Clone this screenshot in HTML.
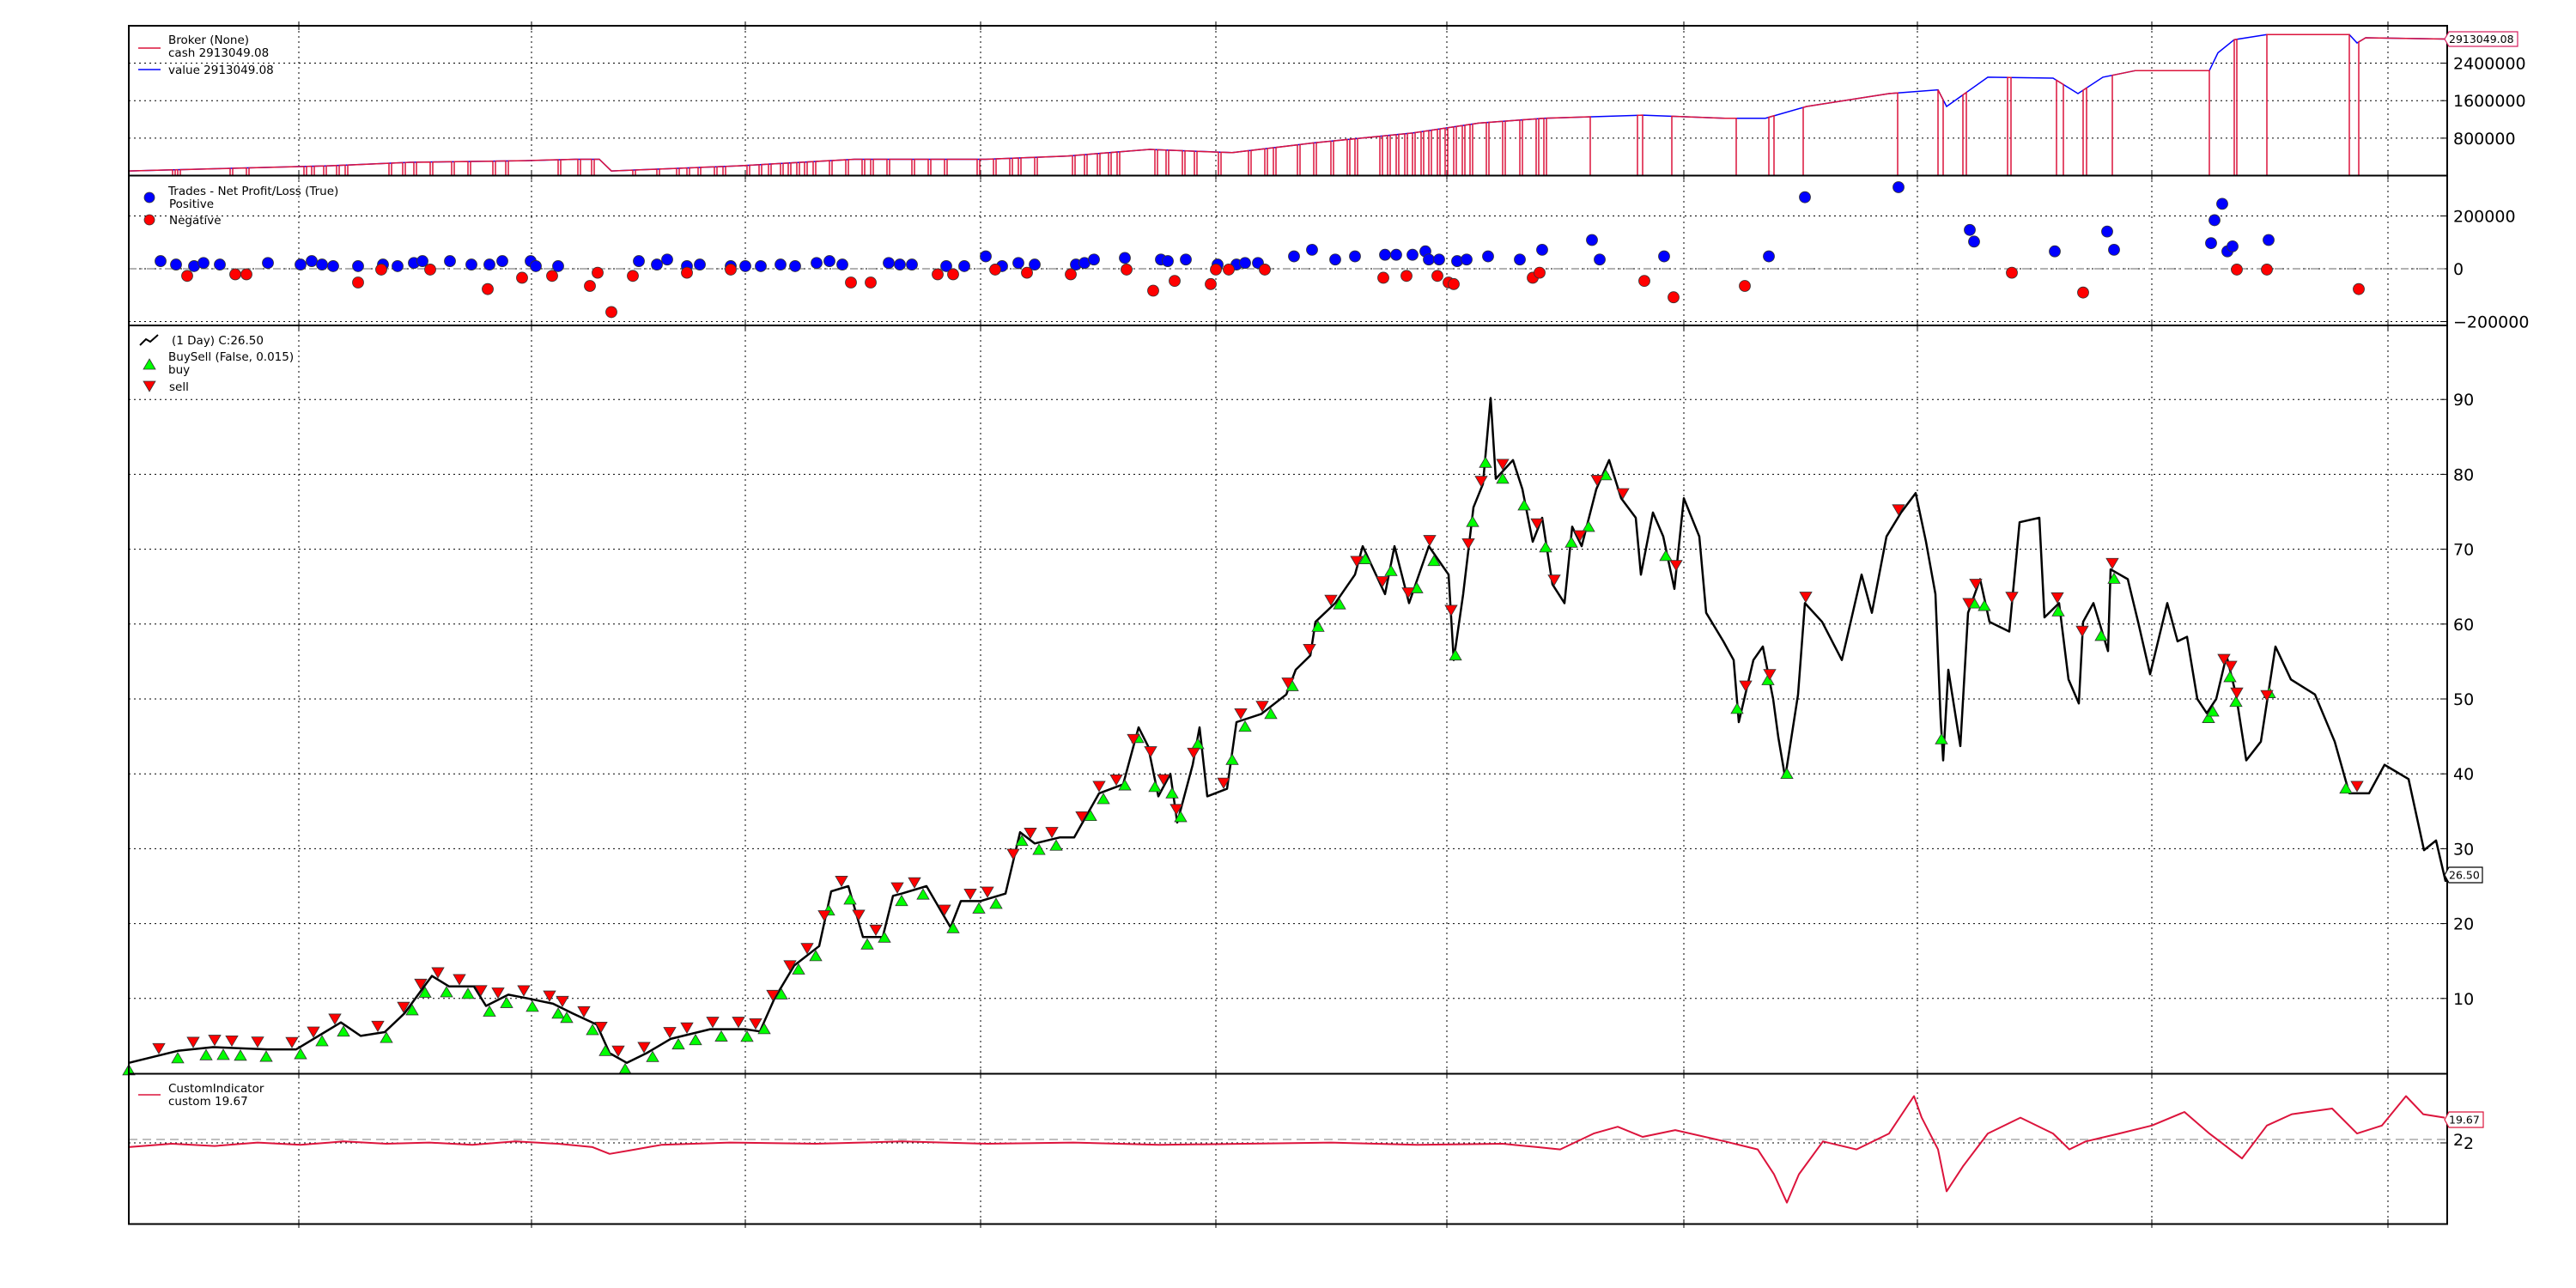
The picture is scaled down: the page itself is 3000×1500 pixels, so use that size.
<!DOCTYPE html>
<html><head><meta charset="utf-8"><title>Backtest chart</title>
<style>
html,body{margin:0;padding:0;background:#fff;}
svg{display:block;font-family:"DejaVu Sans","Liberation Sans",sans-serif;}
</style></head>
<body>
<svg id="chart" width="3000" height="1500" viewBox="0 0 3000 1500" xmlns="http://www.w3.org/2000/svg">
  <rect x="0" y="0" width="3000" height="1500" fill="#fff"/>
  <g id="grid"></g>
  <g id="series"></g>
  <g id="frames" fill="none" stroke="#000" stroke-width="2">
    <rect x="150" y="30" width="2700" height="174.5"/>
    <rect x="150" y="204.5" width="2700" height="174.5"/>
    <rect x="150" y="379" width="2700" height="871.5"/>
    <rect x="150" y="1250.5" width="2700" height="175"/>
  </g>
  <g id="ticks" font-size="19" fill="#000"></g>
  <g font-size="13.5">
    <line x1="161" y1="56" x2="187" y2="56" stroke="#dc143c" stroke-width="1.5"/>
    <line x1="161" y1="81" x2="187" y2="81" stroke="#0000ff" stroke-width="1.5"/>
    <text x="196" y="51">Broker (None)</text>
    <text x="196" y="66">cash 2913049.08</text>
    <text x="196" y="86">value 2913049.08</text>
  </g>
  <g font-size="13.5">
    <circle cx="174" cy="230" r="6" fill="#0000ff" stroke="#333" stroke-width="0.8"/>
    <circle cx="174" cy="256" r="6" fill="#ff0000" stroke="#333" stroke-width="0.8"/>
    <text x="196" y="227">Trades - Net Profit/Loss (True)</text>
    <text x="197" y="242">Positive</text>
    <text x="197" y="261">Negative</text>
  </g>
  <g font-size="13.5">
    <polyline points="163,402 170,395 175,398 184,390" fill="none" stroke="#000" stroke-width="2"/>
    <text x="200" y="401">(1 Day) C:26.50</text>
    <text x="196" y="420">BuySell (False, 0.015)</text>
    <polygon points="174,418 181,430 167,430" fill="#00ff00" stroke="#333" stroke-width="0.8"/>
    <text x="196" y="435">buy</text>
    <polygon points="167,444 181,444 174,456" fill="#ff0000" stroke="#333" stroke-width="0.8"/>
    <text x="197" y="455">sell</text>
  </g>
  <g font-size="13.5">
    <line x1="161" y1="1275" x2="187" y2="1275" stroke="#dc143c" stroke-width="1.5"/>
    <text x="196" y="1272">CustomIndicator</text>
    <text x="196" y="1287">custom 19.67</text>
  </g>
  <g font-size="12.5">
    <polygon points="2852,37 2932,37 2932,54 2852,54 2847,45.5" fill="#fff" stroke="#d62060" stroke-width="1.2"/>
    <text x="2852" y="50">2913049.08</text>
    <polygon points="2852,1010 2891,1010 2891,1028 2852,1028 2847,1019" fill="#fff" stroke="#000" stroke-width="1.2"/>
    <text x="2852" y="1023.5">26.50</text>
    <polygon points="2852,1295 2892,1295 2892,1313 2852,1313 2847,1304" fill="#fff" stroke="#dc143c" stroke-width="1.2"/>
    <text x="2852" y="1308.5">19.67</text>
  </g>
</svg>
<script>
// ---- date axis ----
const dateTickDays = [198,469,718,992,1266,1535,1811,2083,2356,2631];
// ---- broker panel (values in thousands) ----
const valueDays = [0,233,328,462,520,548,562,711,845,998,1093,1189,1285,1380,1495,1572,1648,1763,1859,1906,1954,2050,2107,2117,2165,2241,2270,2299,2337,2423,2433,2452,2490,2586,2595,2605,2700];
const valueSeries = [100,210,285,320,350,350,100,210,350,350,420,560,490,700,910,1120,1225,1290,1225,1225,1475,1750,1830,1475,2100,2080,1750,2100,2240,2240,2620,2900,3010,3010,2830,2940,2913];
const cashOutStart = [51,57,118,137,204,213,227,242,252,303,319,332,351,376,395,424,439,500,523,539,587,615,638,650,663,682,692,720,734,745,759,768,778,787,797,816,835,854,864,883,912,931,950,988,1007,1026,1036,1055,1099,1113,1128,1141,1151,1195,1208,1227,1241,1269,1304,1323,1333,1361,1380,1400,1419,1428,1457,1466,1476,1486,1495,1505,1514,1524,1533,1543,1553,1562,1581,1600,1620,1639,1648,1702,1763,1872,1916,2060,2113,2140,2192,2253,2280,2423,2455,2586];
const cashOutEnd   = [54,60,121,140,207,216,230,245,255,306,322,335,354,379,398,427,442,503,526,542,590,618,641,653,666,685,695,723,737,748,762,771,781,790,800,819,838,857,867,886,915,934,953,991,1010,1029,1039,1058,1102,1116,1131,1144,1154,1198,1211,1230,1244,1272,1307,1326,1336,1364,1383,1403,1422,1431,1460,1469,1479,1489,1498,1508,1517,1527,1536,1546,1556,1565,1584,1603,1623,1642,1651,1757,1797,1910,1950,2107,2136,2188,2245,2276,2310,2452,2490,2597];
const brokerTicks = [800000,1600000,2400000];
// ---- trades panel (thousands) ----
const winDays = [37,55,76,87,106,162,200,213,225,238,267,296,313,332,342,374,399,420,435,468,474,500,594,615,627,650,665,701,718,736,759,776,801,816,831,885,898,912,952,973,998,1017,1036,1055,1103,1113,1124,1160,1202,1210,1231,1268,1290,1300,1315,1357,1378,1405,1428,1463,1476,1495,1510,1514,1526,1547,1558,1583,1620,1646,1704,1713,1788,1910,1952,2061,2144,2149,2243,2304,2312,2425,2429,2438,2444,2450,2492];
const winPnL  = [29,16,10,22,16,22,16,29,16,10,10,16,10,22,29,29,16,16,29,29,10,10,29,16,35,10,16,10,10,10,16,10,22,29,16,22,16,16,10,10,47,10,22,16,16,22,35,41,35,29,35,16,16,22,22,47,72,35,47,53,53,53,66,35,35,29,35,47,35,72,109,35,47,47,271,309,147,103,66,141,72,97,184,246,66,85,109];
const lossDays = [68,124,137,267,294,351,418,458,493,537,546,562,587,650,701,841,864,942,960,1009,1046,1097,1162,1193,1218,1260,1266,1281,1323,1461,1488,1524,1537,1543,1635,1643,1765,1799,1882,2193,2276,2455,2490,2597];
const lossPnL  = [-27,-21,-21,-52,-3,-3,-77,-34,-27,-65,-15,-164,-27,-15,-3,-52,-52,-21,-21,-3,-15,-21,-3,-83,-46,-58,-3,-3,-3,-34,-27,-27,-52,-58,-34,-15,-46,-108,-65,-15,-90,-3,-3,-77];
const tradeTicks = [200000,0,-200000];
const tradeTickLabels = ["200000","0","\u2212200000"];
// ---- price panel ----
const priceDays = [0,57,98,161,195,247,270,298,321,344,353,373,402,416,442,465,494,517,545,560,580,603,631,677,718,735,752,775,804,818,838,855,878,890,900,929,957,969,992,1021,1038,1055,1084,1101,1130,1158,1176,1187,1199,1213,1221,1239,1247,1256,1279,1290,1319,1348,1359,1376,1382,1405,1428,1437,1463,1474,1491,1514,1537,1543,1554,1566,1577,1586,1592,1612,1623,1635,1646,1658,1672,1681,1692,1709,1724,1738,1755,1761,1775,1787,1800,1811,1829,1837,1857,1869,1875,1892,1903,1915,1921,1929,1944,1952,1972,1995,2018,2030,2047,2064,2081,2093,2104,2110,2113,2119,2133,2142,2156,2167,2190,2202,2225,2231,2248,2259,2271,2276,2288,2305,2308,2328,2340,2354,2374,2386,2397,2409,2420,2431,2443,2454,2466,2483,2500,2518,2546,2569,2586,2609,2627,2655,2673,2687,2698,2700];
const priceClose = [1.4,3,3.5,3.2,3.2,6.8,5,5.5,8,11.6,13,11.6,11.6,9,10.5,10,9.3,8,6.5,2.7,1.4,2.7,4.6,5.9,5.9,5.6,10,14.4,17,24.3,25,18.2,18.2,23.7,24,25,19.5,23,23,24,32.2,30.7,31.5,31.5,37.4,38.6,46.2,43.7,37,40,33.5,41.2,46.2,37,38,46.9,48,50.6,53.9,55.8,60.3,62.8,66.6,70.4,64,70.4,62.8,70.4,66.6,55.2,64,75.6,78.7,90.2,79.4,81.9,78,71,74.2,65.3,62.8,73,70.4,78,81.9,76.8,74.2,66.6,74.9,71.7,64.7,76.8,71.7,61.5,57.7,55.2,46.9,55.2,57,50,44.9,39.5,50.6,62.8,60.3,55.2,66.6,61.5,71.7,74.9,77.5,71,64,47.5,41.8,53.9,43.7,61.5,66,60.3,59,73.6,74.2,60.9,62.8,52.6,49.4,60.3,62.8,56.4,67.3,66,60.3,53.3,62.8,57.7,58.3,50,48.1,50,55.8,50.6,41.8,44.3,57,52.6,50.6,44.3,37.4,37.4,41.2,39.3,29.8,31.1,25.7,26.5];
const buyDays = [0,57,90,110,130,160,200,225,250,300,330,345,370,395,420,440,470,500,510,540,555,578,610,640,660,690,720,740,760,780,800,815,840,860,880,900,925,960,990,1010,1040,1060,1080,1120,1135,1160,1175,1195,1215,1225,1245,1285,1300,1330,1355,1385,1410,1440,1470,1500,1520,1545,1565,1580,1600,1625,1650,1680,1700,1720,1790,1873,1909,1931,2111,2149,2161,2247,2297,2312,2422,2427,2447,2454,2493,2582];
const sellDays = [35,75,100,120,150,190,215,240,290,320,340,360,385,410,430,460,490,505,530,550,570,600,630,650,680,710,730,750,770,790,810,830,850,870,895,915,950,980,1000,1030,1050,1075,1110,1130,1150,1170,1190,1205,1220,1240,1275,1295,1320,1350,1375,1400,1430,1460,1490,1515,1540,1560,1575,1600,1640,1660,1690,1710,1740,1802,1883,1911,1953,2061,2143,2151,2193,2246,2275,2310,2440,2448,2455,2490,2595];
const priceTicks = [10,20,30,40,50,60,70,80,90];
// ---- custom indicator panel ----
const customDays = [0,50,100,150,200,250,300,350,400,450,500,540,560,590,620,700,800,900,1000,1100,1200,1300,1400,1500,1600,1640,1667,1706,1734,1763,1801,1859,1897,1916,1931,1945,1973,2012,2050,2079,2088,2107,2117,2136,2165,2203,2241,2260,2279,2318,2356,2394,2423,2461,2490,2519,2566,2595,2624,2652,2672,2697];
const customValues = [-6,-3,-5,-2,-4,-1,-3,-2,-4,-1,-3,-6,-12,-8,-4,-2,-3,-1,-3,-2,-4,-3,-2,-4,-3,-6,-8,6,12,3,9,-1,-8,-30,-55,-30,-1,-8,6,39,20,-8,-45,-23,6,20,6,-8,-1,6,13,25,6,-16,13,23,28,6,13,39,23,20];

const NS = 'http://www.w3.org/2000/svg';
const X0 = 150, X1 = 2850, DAYS = 2700;
const xScale = d => X0 + d / DAYS * (X1 - X0);
const yBroker = v => 204.6 - v * 43.7 / 800;
const yTrades = v => 313 - v * 61.5 / 200;
const yPrice = p => 1250 - p * 8.72;
const yCustom = v => 1328 - v * 1.32;

function mk(tag, attrs, parent) {
  const el = document.createElementNS(NS, tag);
  for (const k in attrs) el.setAttribute(k, attrs[k]);
  parent.appendChild(el);
  return el;
}
function interp(days, vals, d) {
  if (d <= days[0]) return vals[0];
  for (let i = 1; i < days.length; i++) {
    if (d <= days[i]) {
      const t = (d - days[i-1]) / (days[i] - days[i-1]);
      return vals[i-1] + t * (vals[i] - vals[i-1]);
    }
  }
  return vals[vals.length - 1];
}

const grid = document.getElementById('grid');
const series = document.getElementById('series');
const ticks = document.getElementById('ticks');
const dot = {stroke:'#000', 'stroke-width':1, 'stroke-dasharray':'2,4', fill:'none'};

dateTickDays.forEach(d => {
  const x = xScale(d);
  const g = mk('line', Object.assign({x1:x, y1:30, x2:x, y2:1425}, dot), grid);
  
  
  [30,204.5,379,1250.5,1425].forEach(yy => {
    const t = mk('line', {x1:x, y1:yy-5, x2:x, y2:yy+5, stroke:'#000', 'stroke-width':1}, grid);
    
    
  });
});
function hgrid(y, label, name, lx) {
  const g = mk('line', Object.assign({x1:150, y1:y, x2:2850, y2:y}, dot), grid);
  
  
  const tk = mk('line', {x1:2842, y1:y, x2:2850, y2:y, stroke:'#000', 'stroke-width':1}, grid);
  
  
  const t = mk('text', {x: lx || 2857, y: y + 7}, ticks);
  t.textContent = label;
  
  
}
brokerTicks.forEach(v => hgrid(yBroker(v/1000), String(v), 'broker-y'));
tradeTicks.forEach((v,i) => hgrid(yTrades(v/1000), tradeTickLabels[i], 'trades-y'));
priceTicks.forEach(v => hgrid(yPrice(v), String(v), 'price-y'));
hgrid(1331, '2', 'custom-y', 2869);
{
  const t = mk('text', {x:2857, y:1334}, ticks);
  t.textContent = '2';
  
  
}
{
  const z = mk('line', {x1:150, y1:yTrades(0), x2:2850, y2:yTrades(0), stroke:'#999', 'stroke-width':1.5, 'stroke-dasharray':'9,5,2,5'}, grid);
  
  
  const c = mk('line', {x1:150, y1:1327, x2:2850, y2:1327, stroke:'#aaa', 'stroke-width':1.5, 'stroke-dasharray':'10,6'}, grid);
  
  
}

{
  let pts = valueDays.map((d,i) => xScale(d).toFixed(1) + ',' + yBroker(valueSeries[i]).toFixed(1));
  const p = mk('polyline', {points: pts.join(' '), fill:'none', stroke:'#0000ff', 'stroke-width':1.5}, series);
  
  
  let dpath = '';
  let cur = 0;
  for (let i = 0; i < cashOutStart.length; i++) {
    const s = cashOutStart[i], e = cashOutEnd[i];
    const segDays = [cur].concat(valueDays.filter(d => d > cur && d < s)).concat([s]);
    segDays.forEach((d,j) => {
      dpath += (j === 0 && i === 0 ? 'M' : 'L') + xScale(d).toFixed(1) + ',' + yBroker(interp(valueDays, valueSeries, d)).toFixed(1);
    });
    dpath += 'L' + xScale(s).toFixed(1) + ',' + yBroker(3).toFixed(1);
    dpath += 'L' + xScale(e).toFixed(1) + ',' + yBroker(3).toFixed(1);
    cur = e;
  }
  const tail = [cur].concat(valueDays.filter(d => d > cur));
  tail.forEach(d => { dpath += 'L' + xScale(d).toFixed(1) + ',' + yBroker(interp(valueDays, valueSeries, d)).toFixed(1); });
  const c = mk('path', {d: dpath, fill:'none', stroke:'#dc143c', 'stroke-width':1.5}, series);
  
  
}

winDays.forEach((d,i) => {
  const c = mk('circle', {cx:xScale(d), cy:yTrades(winPnL[i]), r:6.5, fill:'#0000ff', stroke:'#333', 'stroke-width':0.8}, series);
  
  
});
lossDays.forEach((d,i) => {
  const c = mk('circle', {cx:xScale(d), cy:yTrades(lossPnL[i]), r:6.5, fill:'#ff0000', stroke:'#333', 'stroke-width':0.8}, series);
  
  
});

{
  const pts = priceDays.map((d,i) => xScale(d).toFixed(1) + ',' + yPrice(priceClose[i]).toFixed(1));
  const p = mk('polyline', {points: pts.join(' '), fill:'none', stroke:'#000', 'stroke-width':2.5, 'stroke-linejoin':'round'}, series);
  
  
}
buyDays.forEach(d => {
  const x = xScale(d), y = yPrice(interp(priceDays, priceClose, d)) + 8;
  const t = mk('polygon', {points: `${x},${y-6} ${x+7},${y+6} ${x-7},${y+6}`, fill:'#00ff00', stroke:'#333', 'stroke-width':0.8}, series);
  
  
});
sellDays.forEach(d => {
  const x = xScale(d), y = yPrice(interp(priceDays, priceClose, d)) - 8;
  const t = mk('polygon', {points: `${x-7},${y-6} ${x+7},${y-6} ${x},${y+6}`, fill:'#ff0000', stroke:'#333', 'stroke-width':0.8}, series);
  
  
});

{
  const pts = customDays.map((d,i) => xScale(d).toFixed(1) + ',' + yCustom(customValues[i]).toFixed(1));
  const p = mk('polyline', {points: pts.join(' '), fill:'none', stroke:'#dc143c', 'stroke-width':2, 'stroke-linejoin':'round'}, series);
  
  
}
</script>
</body></html>
